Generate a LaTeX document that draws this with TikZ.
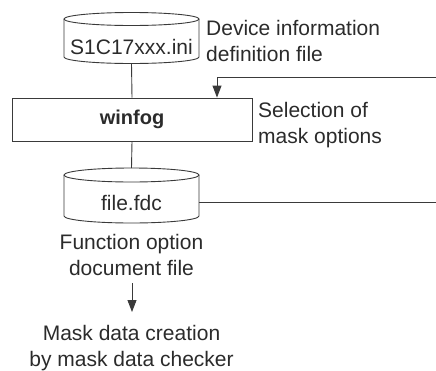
\documentclass[tikz,border=0pt]{standalone}
\usepackage{fontspec}
\setmainfont{Liberation Sans}
\usetikzlibrary{arrows.meta}
\definecolor{txt}{HTML}{2B2B2B}
\definecolor{ln}{HTML}{3A3A3A}
\begin{document}
\begin{tikzpicture}[x=1pt,y=-1pt,
  every node/.style={inner sep=0pt, text=txt, font=\fontsize{21}{26}\selectfont},
  lbl/.style={align=left, anchor=west},
  clbl/.style={align=center},
  conn/.style={draw=ln, line width=0.9pt},
  arr/.style={conn, -{Triangle[length=12pt,width=9pt]}},
  cyl/.style={draw=ln, line width=0.9pt},
  boxed/.style={draw=ln, line width=0.9pt, minimum width=240pt, minimum height=43pt, font=\fontsize{20}{24}\selectfont\bfseries}]
\useasboundingbox (0,0) rectangle (436,370);
% top cylinder
\draw[cyl] (131.5,19) ellipse [x radius=67.5pt, y radius=6.5pt];
\draw[cyl] (64,19) -- (64,57) arc [start angle=180, end angle=360, x radius=67.5pt, y radius=6.5pt] -- (199,19);
\node (ini) at (131.5,47) {S1C17xxx.ini};
\coordinate (inibot) at (131.5,63.5);
\node[lbl] (devnote) at (206,41) {Device information\\definition file};
% winfog box
\node[boxed] (winfog) at (132,119.5) {winfog};
\node[lbl] (selnote) at (258,125) {Selection of\\mask options};
% bottom cylinder
\draw[cyl] (131.5,175) ellipse [x radius=67.5pt, y radius=7pt];
\draw[cyl] (64,175) -- (64,216) arc [start angle=180, end angle=360, x radius=67.5pt, y radius=7pt] -- (199,175);
\node (fdc) at (131.5,203) {file.fdc};
\coordinate (fdctop) at (131.5,168);
\coordinate (fdcR) at (199,202);
\coordinate (edgeB) at (436,202);
\coordinate (edgeT) at (436,77);
\node[clbl] (fdcnote) at (131.5,255) {Function option\\document file};
\node[clbl] (mask) at (131.5,348) {Mask data creation\\by mask data checker};
\coordinate (a1) at (132,283);
\coordinate (a2) at (132,312);
% connectors
\draw[conn] (inibot) -- (winfog.north);
\draw[conn] (winfog.south) -- (fdctop);
\draw[conn] (fdcR) -- (edgeB);
\draw[arr] (edgeT) -| ([xshift=85pt]winfog.north);
\draw[arr] (a1) -- (a2);
\end{tikzpicture}
\end{document}
